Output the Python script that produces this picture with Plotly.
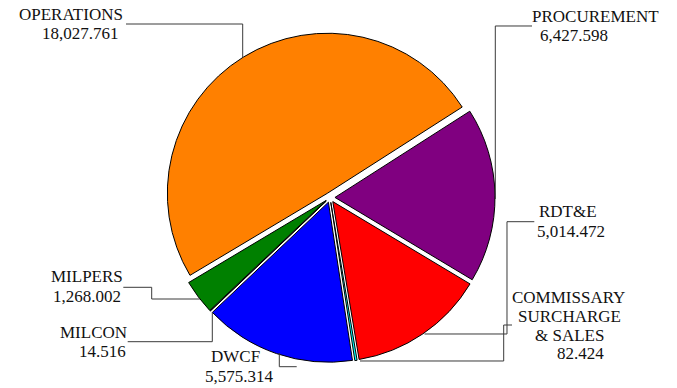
import plotly.graph_objects as go

# Canvas size in pixels
W, H = 677, 388

# Budget categories in clockwise drawing order (starting at the upper right)
categories = ["PROCUREMENT", "RDT&E", "COMMISSARY SURCHARGE & SALES",
              "DWCF", "MILCON", "MILPERS", "OPERATIONS"]
values = [6427.598, 5014.472, 82.424, 5575.314, 14.516, 1268.002, 18027.761]
label_lines = [["PROCUREMENT"], ["RDT&E"], ["COMMISSARY", "SURCHARGE", "& SALES"],
               ["DWCF"], ["MILCON"], ["MILPERS"], ["OPERATIONS"]]
colors = ["#800080", "#FF0000", "#00FFFF", "#0000FF", "#FFFFFF", "#008000", "#FF8000"]

# Label placement (pixel centre of each text line: name lines then value line)
label_pos = {
    "PROCUREMENT": [(595.3, 16.9), (574.2, 35.9)],
    "RDT&E": [(568.2, 211.5), (570.7, 231.5)],
    "COMMISSARY SURCHARGE & SALES": [(568.7, 297.5), (569.2, 316.5),
                                     (569.8, 335.2), (580.2, 353.2)],
    "DWCF": [(235.3, 356.9), (239.5, 376.9)],
    "MILCON": [(93.3, 332.5), (102.8, 351.5)],
    "MILPERS": [(87.3, 276.9), (87.0, 296.5)],
    "OPERATIONS": [(71.3, 14.9), (80.5, 33.2)],
}

# Leader lines from each label to its slice (pixel polylines)
leader_paths = {
    "PROCUREMENT": [(532, 26), (495.3, 26), (495.3, 199)],
    "RDT&E": [(534.3, 221.7), (507, 221.7), (507, 334), (424.5, 334)],
    "COMMISSARY SURCHARGE & SALES": [(512, 325), (503.7, 325), (503.7, 361), (360, 361)],
    "DWCF": [(279.3, 353), (279.3, 366.7), (296.7, 366.7)],
    "MILCON": [(127.7, 341.7), (212.3, 341.7), (212.3, 312)],
    "MILPERS": [(123.3, 287.3), (151.7, 287.3), (151.7, 299), (200, 299)],
    "OPERATIONS": [(126, 24), (242.7, 24), (242.7, 57.5)],
}

FONT = "Liberation Serif"


def px(x, y):
    return x / W, 1 - y / H


fig = go.Figure(go.Pie(
    labels=categories,
    values=values,
    sort=False,
    direction="clockwise",
    rotation=57.4,
    pull=[0.031] * len(values),
    marker=dict(colors=colors, line=dict(color="#000000", width=1)),
    textinfo="none",
    hoverinfo="label+value",
    showlegend=False,
    domain=dict(x=[165 / W, 495 / W], y=[(H - 362.5) / H, (H - 32.5) / H]),
))

annotations = []
shapes = []
for cat, lines, val in zip(categories, label_lines, values):
    texts = lines + [f"{val:,.3f}"]
    for txt, (x, y) in zip(texts, label_pos[cat]):
        ax, ay = px(x, y)
        annotations.append(dict(
            x=ax, y=ay, xref="paper", yref="paper", text=txt,
            showarrow=False, xanchor="center", yanchor="middle",
            font=dict(family=FONT, size=17, color="#111111"),
        ))
    pts = [px(x, y) for x, y in leader_paths[cat]]
    path = "M " + " L ".join(f"{x:.5f},{y:.5f}" for x, y in pts)
    shapes.append(dict(type="path", path=path, xref="paper", yref="paper",
                       line=dict(color="#3a3a3a", width=1)))

fig.update_layout(
    width=W, height=H,
    margin=dict(l=0, r=0, t=0, b=0),
    paper_bgcolor="white",
    plot_bgcolor="white",
    font=dict(family=FONT),
    annotations=annotations,
    shapes=shapes,
)

fig.write_html("out.html")
